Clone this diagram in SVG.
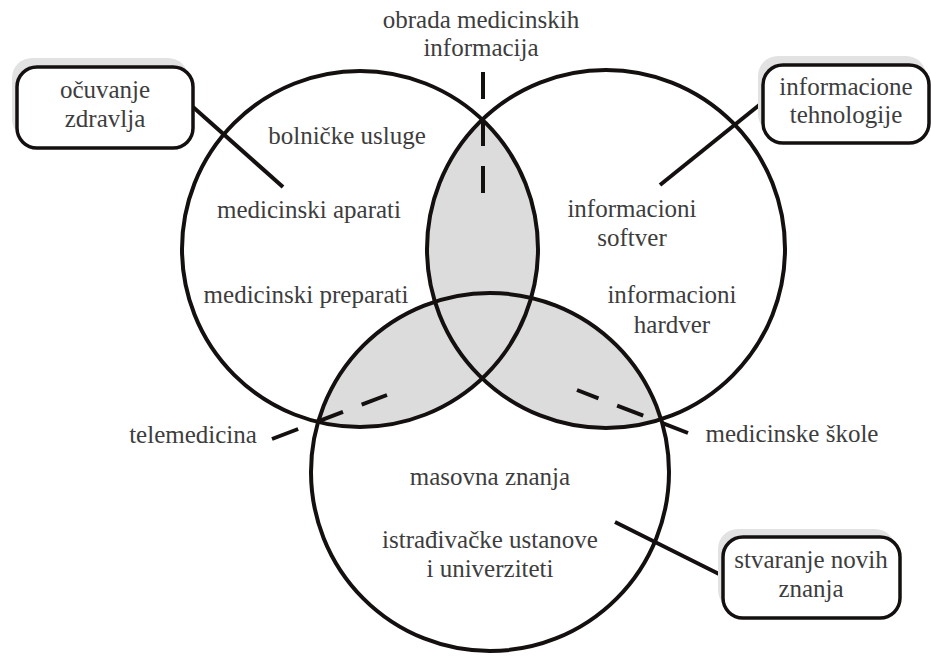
<svg xmlns="http://www.w3.org/2000/svg" width="931" height="656" viewBox="0 0 931 656">
<style>
text{font-family:'Liberation Serif','Times New Roman',Times,'DejaVu Serif',serif;font-size:25px;fill:#3d3d3d;text-anchor:middle}
.c{fill:none;stroke:#151010;stroke-width:4}
.ln{stroke:#151010;stroke-width:4;fill:none}
.d{stroke:#151010;stroke-width:4;fill:none}
.box{fill:#fff;stroke:#151010;stroke-width:3.5}
.sh{fill:#e2e2e2}
.g{fill:#dcdcdc}
</style>
<defs>
<clipPath id="cL"><circle cx="360" cy="249" r="178"/></clipPath>
<clipPath id="cR"><circle cx="606" cy="249" r="179"/></clipPath>
</defs>
<g id="shading">
<circle class="g" cx="606" cy="249" r="179" clip-path="url(#cL)"/>
<circle class="g" cx="490" cy="472" r="179" clip-path="url(#cL)"/>
<circle class="g" cx="490" cy="472" r="179" clip-path="url(#cR)"/>
</g>
<g id="circles">
<circle id="circle-left" class="c" cx="360" cy="249" r="178"/>
<circle id="circle-right" class="c" cx="606" cy="249" r="179"/>
<circle id="circle-bottom" class="c" cx="490" cy="472" r="179"/>
</g>
<g id="connectors">
<line class="ln" x1="193" y1="107" x2="283" y2="187"/>
<line class="ln" x1="763" y1="102" x2="660" y2="185"/>
<line class="ln" x1="723" y1="576" x2="615" y2="522"/>
<line class="d" x1="483" y1="72" x2="483" y2="194" stroke-dasharray="27 20"/>
<line class="d" x1="272" y1="439" x2="387" y2="395" stroke-dasharray="28 20"/>
<line class="d" x1="688" y1="433" x2="577" y2="390" stroke-dasharray="28 20"/>
</g>
<g id="node-ocuvanje">
<rect class="sh" x="12" y="58" width="176" height="81" rx="20"/>
<rect class="box" x="17" y="67" width="176" height="81" rx="20"/>
<text x="105" y="98">očuvanje</text>
<text x="105" y="127">zdravlja</text>
</g>
<g id="node-informacione">
<rect class="sh" x="758" y="56" width="168" height="78" rx="20"/>
<rect class="box" x="763" y="65" width="166" height="78" rx="20"/>
<text x="846" y="95">informacione</text>
<text x="846" y="123">tehnologije</text>
</g>
<g id="node-stvaranje">
<rect class="sh" x="718" y="529" width="177" height="81" rx="20"/>
<rect class="box" x="723" y="537" width="177" height="81" rx="20"/>
<text x="811" y="568">stvaranje novih</text>
<text x="811" y="597">znanja</text>
</g>
<g id="labels">
<text x="481" y="28">obrada medicinskih</text>
<text x="481" y="56">informacija</text>
<text x="347" y="144">bolničke usluge</text>
<text x="309" y="218">medicinski aparati</text>
<text x="306" y="303">medicinski preparati</text>
<text x="632" y="217">informacioni</text>
<text x="632" y="246">softver</text>
<text x="672" y="303">informacioni</text>
<text x="672" y="333">hardver</text>
<text x="193" y="443">telemedicina</text>
<text x="792" y="442">medicinske škole</text>
<text x="490" y="485">masovna znanja</text>
<text x="490" y="548">istrađivačke ustanove</text>
<text x="490" y="577">i univerziteti</text>
</g>
</svg>
